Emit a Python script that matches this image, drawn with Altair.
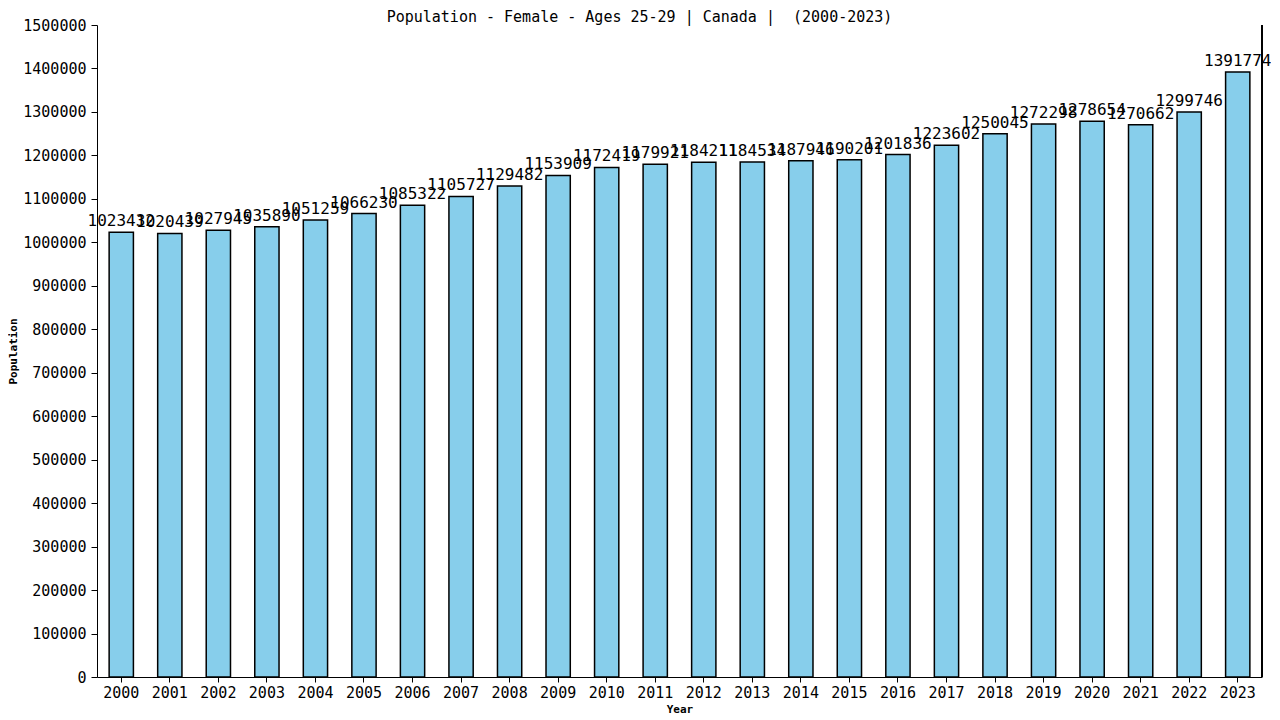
import altair as alt
import pandas as pd

years = [str(y) for y in range(2000, 2024)]
values = [1023432, 1020439, 1027945, 1035890, 1051259, 1066230, 1085322, 1105727,
          1129482, 1153909, 1172419, 1179921, 1184211, 1184534, 1187946, 1190201,
          1201836, 1223602, 1250045, 1272298, 1278654, 1270662, 1299746, 1391774]

df = pd.DataFrame({"Year": years, "Population": values})

FONT = "DejaVu Sans Mono"
W = 1165

x = alt.X("Year:N", title="Year", scale=alt.Scale(paddingInner=0.5, paddingOuter=0.25),
          axis=alt.Axis(labelAngle=0, labelFontSize=15, labelFont=FONT, labelColor="black",
                        titleFont=FONT, titleFontSize=11, titleFontWeight="bold",
                        domainColor="black", tickColor="black", tickSize=5, labelPadding=3,
                        titlePadding=3))
y = alt.Y("Population:Q", title="Population",
          scale=alt.Scale(domain=[0, 1500000], nice=False),
          axis=alt.Axis(values=list(range(0, 1500001, 100000)), format="d", grid=False,
                        labelFontSize=15, labelFont=FONT, labelColor="black", labelLimit=200,
                        titleFont=FONT, titleFontSize=11, titleFontWeight="bold",
                        domainColor="black", tickColor="black", tickSize=6, labelPadding=5,
                        titlePadding=4))

bars = alt.Chart(df).mark_bar(color="#87CEEB", stroke="black", strokeWidth=1.5).encode(x=x, y=y)
labels = alt.Chart(df).mark_text(baseline="bottom", dy=-3, fontSize=16, font=FONT,
                                 color="black").encode(
    x=alt.X("Year:N"), y=alt.Y("Population:Q"), text=alt.Text("Population:Q", format="d"))
right = alt.Chart(df).mark_rule(color="black").encode(
    x=alt.value(W), y=alt.value(0), y2=alt.value(652))

chart = alt.layer(bars, labels, right).properties(
    width=W, height=652,
    title=alt.TitleParams("Population - Female - Ages 25-29 | Canada | \u00a0(2000-2023)",
                          font=FONT, fontSize=15, fontWeight="normal", offset=-7, dx=-40,
                          color="black"),
    autosize=alt.AutoSizeParams(type="none"),
    padding={"left": 89, "top": 17, "right": 9, "bottom": 40},
).configure_view(stroke=None).configure_title(anchor="middle")

chart.save("out.html", embed_options={"renderer": "svg", "actions": False})
